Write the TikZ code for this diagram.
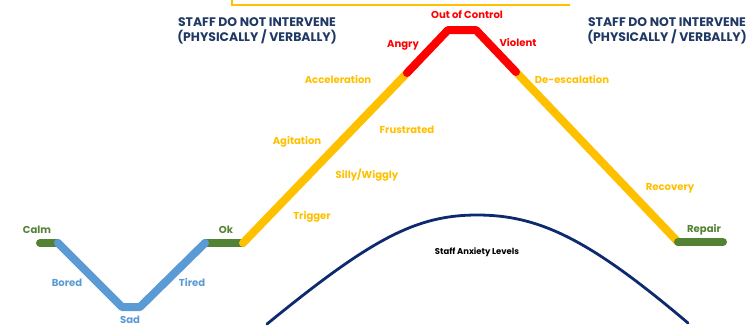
\documentclass[tikz,border=0pt]{standalone}
\usepackage{fontspec}
\setmainfont{Poppins}
\definecolor{calmgreen}{HTML}{548235}
\definecolor{lowblue}{HTML}{5B9BD5}
\definecolor{riseyellow}{HTML}{FFC000}
\definecolor{peakred}{HTML}{FF0000}
\definecolor{staffnavy}{HTML}{1F3864}
\definecolor{curvenavy}{HTML}{0E2A6E}
\tikzset{
  track/.style={line width=0.24cm, line cap=round, line join=round},
  lbl/.style={font=\bfseries\fontsize{8.6}{10}\selectfont, inner sep=0pt},
  head/.style={font=\bfseries\fontsize{10.6}{12.4}\selectfont, align=center, text=staffnavy, inner sep=0pt}
}
\begin{document}
\begin{tikzpicture}[x=0.03cm, y=-0.03cm]
\useasboundingbox (0,0) rectangle (753,333);
% points along the escalation line
\coordinate (c0) at (40,243);
\coordinate (c1) at (58,243);
\coordinate (s0) at (122,307);
\coordinate (s1) at (140,307);
\coordinate (k0) at (205,243);
\coordinate (k1) at (243,243);
\coordinate (a0) at (407,73);
\coordinate (p0) at (448,30);
\coordinate (p1) at (476,30);
\coordinate (v0) at (516,72);
\coordinate (r0) at (678,242);
\coordinate (r1) at (723,242);
% edge of the yellow box above
\coordinate (b0) at (232,0);
\coordinate (b1) at (232,5);
\coordinate (b2) at (570,5);
\draw[riseyellow, line width=2.4pt] (b0) -- (b1) -- (b2);
% the line itself
\draw[track, calmgreen] (c0) -- (c1);
\draw[track, calmgreen] (k0) -- (k1);
\draw[track, lowblue] (c1) -- (s0) -- (s1) -- (k0);
\draw[track, riseyellow] (k1) -- (a0);
\draw[track, riseyellow] (v0) -- (r0);
\draw[track, peakred] (a0) -- (p0) -- (p1) -- (v0);
\draw[track, calmgreen] (r0) -- (r1);
% labels
\node[lbl, text=calmgreen] (calm) at (37,230) {Calm};
\node[lbl, text=lowblue] (bored) at (67,283) {Bored};
\node[lbl, text=lowblue] (sad) at (130,320) {Sad};
\node[lbl, text=lowblue] (tired) at (192,283) {Tired};
\node[lbl, text=calmgreen] (ok) at (226,230) {Ok};
\node[lbl, text=riseyellow] (trigger) at (312,217) {Trigger};
\node[lbl, text=riseyellow] (silly) at (367,175) {Silly/Wiggly};
\node[lbl, text=riseyellow] (agitation) at (297,142) {Agitation};
\node[lbl, text=riseyellow] (frustrated) at (407,130) {Frustrated};
\node[lbl, text=riseyellow] (accel) at (338,80) {Acceleration};
\node[lbl, text=peakred] (angry) at (403,45) {Angry};
\node[lbl, text=peakred] (outctrl) at (467,15) {Out of Control};
\node[lbl, text=peakred] (violent) at (518,43) {Violent};
\node[lbl, text=riseyellow] (deesc) at (572,80) {De-escalation};
\node[lbl, text=riseyellow] (recovery) at (670,188) {Recovery};
\node[lbl, text=calmgreen] (repair) at (704,230) {Repair};
\node[head] (leftnote) at (257,31) {STAFF DO NOT INTERVENE\\(PHYSICALLY / VERBALLY)};
\node[head] (rightnote) at (667,31) {STAFF DO NOT INTERVENE\\(PHYSICALLY / VERBALLY)};
% staff anxiety curve
\coordinate (q0) at (267,324);
\coordinate (qtop) at (477,215);
\coordinate (q1) at (688,323);
\draw[curvenavy, line width=2.4pt, line cap=round]
  (q0) .. controls (370,240) and (415,215) .. (qtop)
  .. controls (540,215) and (590,240) .. (q1);
\node[lbl, font=\bfseries\fontsize{7.2}{8}\selectfont] (anxiety) at (477,252) {Staff Anxiety Levels};
\end{tikzpicture}
\end{document}
